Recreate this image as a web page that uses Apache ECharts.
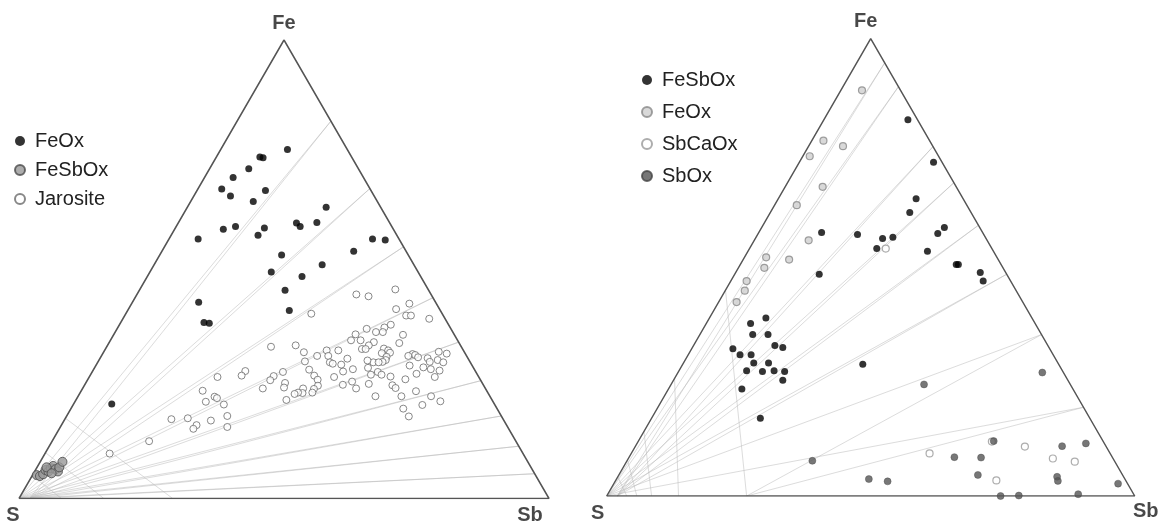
<!DOCTYPE html>
<html><head><meta charset="utf-8">
<script src="https://cdn.jsdelivr.net/npm/echarts@6/dist/echarts.min.js"></script>
<style>html,body{margin:0;padding:0;background:#fff}#c{width:1161px;height:522px}</style>
</head><body><div id="c"></div>
<script>
// Ternary compositions, each point = [Fe %, Sb %]; S % = 100 - Fe - Sb
const leftFeOx = [[76.1,12.6],[74.5,8.2],[74.3,8.9],[71.9,7.4],[70.0,5.4],[67.5,4.5],[66.0,6.9],[67.2,12.9],[64.8,11.8],[63.5,26.2],[60.1,22.3],[59.3,23.4],[60.2,26.1],[58.7,9.2],[59.3,11.2],[59.0,16.8],[57.4,16.4],[56.6,5.5],[56.6,38.4],[56.4,40.9],[53.9,36.2],[53.1,23.0],[51.0,31.7],[49.4,22.9],[48.4,29.2],[45.4,27.5],[42.8,12.5],[41.0,30.5],[38.4,15.7],[38.2,16.8],[20.6,7.2]];
const leftFeSbOx = [[5.1,0.8],[4.9,1.5],[5.3,1.9],[6.2,1.9],[5.9,2.6],[6.6,2.7],[7.1,2.9],[6.4,3.7],[5.9,4.4],[6.8,4.2],[8.0,4.2],[6.8,1.8],[5.5,3.4]];
const leftJarosite = [[45.6,48.2],[44.5,41.4],[44.1,43.9],[40.3,35.0],[42.5,52.4],[41.3,50.5],[39.9,53.1],[39.9,54.0],[39.2,57.8],[37.9,51.2],[37.3,50.3],[36.3,49.2],[37.0,47.1],[36.3,50.5],[35.8,45.6],[34.5,45.4],[34.5,47.2],[35.7,54.6],[34.1,49.9],[33.9,54.8],[33.4,49.3],[32.6,48.4],[32.6,49.1],[32.7,52.5],[32.3,53.5],[31.8,54.1],[31.7,52.6],[30.9,53.9],[30.2,54.1],[29.8,53.7],[33.1,31.0],[33.4,35.5],[31.9,37.8],[32.3,41.9],[32.3,44.1],[31.1,42.8],[31.1,40.7],[30.5,46.7],[29.7,43.8],[29.4,44.5],[29.9,39.0],[32.0,63.2],[31.6,64.9],[31.5,58.5],[31.3,59.1],[31.1,57.9],[30.8,59.9],[30.6,61.8],[29.8,62.6],[30.2,63.9],[29.7,65.2],[28.6,62.0],[28.2,63.6],[27.9,65.4],[29.0,59.2],[26.5,65.2],[27.2,61.4],[26.0,59.9],[26.6,56.8],[29.7,52.0],[30.1,50.7],[29.7,53.0],[28.5,51.6],[27.6,53.9],[27.0,54.9],[27.0,52.9],[28.2,48.9],[27.7,47.3],[29.2,46.2],[25.5,50.1],[24.8,48.7],[24.0,51.6],[25.0,53.5],[26.5,46.2],[28.1,40.7],[26.8,42.3],[25.9,43.4],[24.6,44.1],[23.9,43.7],[23.1,43.8],[24.0,41.6],[23.0,42.0],[23.1,41.1],[25.2,37.6],[24.2,37.9],[27.6,36.0],[26.7,34.7],[25.8,34.5],[24.0,34.0],[22.8,40.6],[21.5,39.7],[24.7,58.1],[24.1,59.0],[22.3,61.0],[23.4,63.2],[22.3,66.6],[21.2,68.9],[20.4,65.9],[19.6,62.7],[17.9,64.6],[22.3,56.1],[27.8,28.8],[26.8,28.6],[26.5,24.2],[23.5,22.9],[22.2,25.8],[21.1,24.7],[21.9,26.4],[20.5,28.4],[18.0,30.3],[17.0,27.7],[16.0,25.5],[15.2,25.3],[17.5,23.1],[17.3,20.1],[15.6,31.5],[12.5,18.3],[9.8,12.2]];

const rightFeSbOx = [[82.3,15.9],[73.0,25.4],[65.0,26.1],[62.0,26.4],[57.6,11.9],[57.2,18.9],[56.3,24.1],[56.6,25.9],[54.1,24.1],[53.5,34.0],[58.7,34.6],[57.4,34.0],[50.6,40.9],[50.6,41.3],[48.9,46.3],[47.0,47.8],[48.5,16.0],[38.9,10.7],[37.7,8.4],[35.3,10.0],[35.3,12.9],[32.2,7.8],[30.9,9.8],[30.9,11.9],[32.9,15.4],[32.5,17.1],[29.1,13.3],[29.1,16.1],[27.4,12.8],[27.2,15.9],[27.4,18.0],[27.2,20.1],[25.3,20.7],[23.4,13.9],[17.0,20.6],[28.8,34.1]];
const rightFeOx = [[88.7,4.0],[77.7,2.2],[76.5,6.5],[74.3,1.3],[67.6,7.1],[63.6,4.2],[55.9,10.3],[51.7,8.7],[52.2,4.1],[49.9,4.9],[47.0,3.0],[44.9,3.7],[42.4,3.4]];
const rightSbCaOx = [[54.1,25.8],[9.3,56.5],[10.8,73.8],[8.2,80.4],[7.5,84.9],[3.4,72.1],[11.9,67.0]];
const rightSbOx = [[27.0,69.0],[24.4,47.9],[7.7,35.1],[3.7,47.8],[3.2,51.6],[12.0,67.3],[8.5,61.6],[8.4,66.7],[10.9,80.8],[11.5,85.0],[4.6,68.0],[4.2,83.2],[3.3,83.8],[0.4,89.1],[0.0,74.6],[0.1,78.0],[2.7,95.5]];

// reference rays: [Sb % where the ray meets the Fe–Sb side, Sb % of the second line's start on the S–Sb side]
const leftRays = [[17.7,2],[32.4,2],[45.1,2],[56.2,2],[65.9,2],[74.3,2],[82.0,2],[88.6,2],[94.6,2]];
const rightRays = [[5.3,2],[10.5,2],[23.6,2],[31.5,2],[40.8,2],[51.5,2],[64.7,26.5],[80.6,26.5]];
// transverse lines: [Fe % on S–Fe side, Sb % on S–Sb side]
const leftCross = [[17.5,29.0],[10.0,16.0],[5.0,8.0]];
const rightCross = [[45.0,26.5],[25.7,13.6],[14.1,8.5],[7.9,5.7],[4.2,3.8]];

const vertexNames = ['S','Fe','Sb'];
const vertices = [[0,0],[100,0],[0,100]];

function xy(p){ return [(p[1] + p[0]/2)/100, p[0]/100]; }

function rayLines(rays){
  const out = [];
  rays.forEach(r => {
    const end = xy([100 - r[0], r[0]]);
    out.push({coords:[xy([0,0]), end]});
    out.push({coords:[xy([0,r[1]]), end]});
  });
  return out;
}
function crossLines(arr){
  return arr.map(c => ({coords:[xy([c[0],0]), xy([0,c[1]])]}));
}

const chart = echarts.init(document.getElementById('c'), null, {renderer:'canvas'});
const axisOff = {type:'value', min:0, max:1, show:false};
const grayLine = {color:'#bababa', width:1};
const labelOff = {
  S:{0:[-6,17],1:[-9,17]},
  Fe:{0:[0,-17],1:[-5,-17]},
  Sb:{0:[-19,17],1:[11,15]}
};

function vertexSeries(idx){
  return {
    type:'scatter', xAxisIndex:idx, yAxisIndex:idx, symbolSize:1, silent:true,
    itemStyle:{color:'rgba(0,0,0,0)'}, z:5,
    data: vertices.map((v,i)=>({name:vertexNames[i], value:xy(v),
      label:{show:true, formatter:vertexNames[i], position:'inside', offset:labelOff[vertexNames[i]][idx],
        fontSize:20, fontWeight:'bold', color:'#1a1a1a', fontFamily:'Liberation Sans, Arial, sans-serif'}}))
  };
}
function triangle(idx){
  return {type:'line', xAxisIndex:idx, yAxisIndex:idx, symbol:'none', silent:true, z:3,
    lineStyle:{color:'#555', width:1.5},
    data:[vertices[0],vertices[1],vertices[2],vertices[0]].map(xy)};
}
function scatter(name, idx, data, size, style){
  return {type:'scatter', name, xAxisIndex:idx, yAxisIndex:idx, symbolSize:size, clip:false, z:4,
    itemStyle:style, data:data.map(xy)};
}

const displayName = n => n.slice(2);

chart.setOption({
  animation:false,
  backgroundColor:'#fff',
  grid:[{left:19, top:40, width:530, height:458.5},{left:606.7, top:38.7, width:528, height:457.3}],
  xAxis:[Object.assign({gridIndex:0},axisOff),Object.assign({gridIndex:1},axisOff)],
  yAxis:[Object.assign({gridIndex:0},axisOff),Object.assign({gridIndex:1},axisOff)],
  legend:[
    {orient:'vertical', left:9, top:126, itemWidth:20, itemHeight:10, itemGap:9,
     data:['L_FeOx','L_FeSbOx','L_Jarosite'], formatter:displayName, selectedMode:false,
     textStyle:{fontSize:20, color:'#222', fontFamily:'Liberation Sans, Arial, sans-serif'}},
    {orient:'vertical', left:636, top:65, itemWidth:20, itemHeight:10, itemGap:12,
     data:['R_FeSbOx','R_FeOx','R_SbCaOx','R_SbOx'], formatter:displayName, selectedMode:false,
     textStyle:{fontSize:20, color:'#222', fontFamily:'Liberation Sans, Arial, sans-serif'}}
  ],
  series:[
    {type:'lines', coordinateSystem:'cartesian2d', xAxisIndex:0, yAxisIndex:0, silent:true, z:1,
     lineStyle:grayLine, data:rayLines(leftRays).concat(crossLines(leftCross))},
    {type:'lines', coordinateSystem:'cartesian2d', xAxisIndex:1, yAxisIndex:1, silent:true, z:1,
     lineStyle:grayLine, data:rayLines(rightRays).concat(crossLines(rightCross))},
    triangle(0), triangle(1),
    scatter('L_FeOx',0,leftFeOx,7,{color:'#000'}),
    scatter('L_FeSbOx',0,leftFeSbOx,9,{color:'#999', borderColor:'#4a4a4a', borderWidth:1}),
    scatter('L_Jarosite',0,leftJarosite,7,{color:'#fff', borderColor:'#6a6a6a', borderWidth:1}),
    scatter('R_FeSbOx',1,rightFeSbOx,7,{color:'#000'}),
    scatter('R_FeOx',1,rightFeOx,7,{color:'#cfcfcf', borderColor:'#888', borderWidth:1.2}),
    scatter('R_SbCaOx',1,rightSbCaOx,7,{color:'#fff', borderColor:'#999', borderWidth:1.2}),
    scatter('R_SbOx',1,rightSbOx,7,{color:'#555', borderColor:'#444', borderWidth:0.5}),
    vertexSeries(0), vertexSeries(1)
  ]
});
</script></body></html>
